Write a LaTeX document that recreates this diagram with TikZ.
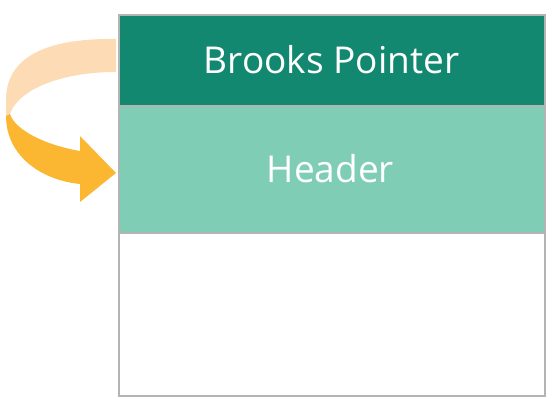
\documentclass[tikz,border=0pt]{standalone}
\usepackage{fontspec}
\setmainfont{Open Sans}
\definecolor{darkteal}{HTML}{138870}
\definecolor{lightteal}{HTML}{7FCDB5}
\definecolor{peach}{HTML}{FDDCB5}
\definecolor{amber}{HTML}{FBB632}
\definecolor{edgegray}{HTML}{B4B4B4}
\begin{document}
\begin{tikzpicture}[x=1pt,y=-1pt,
  band/.style={draw=edgegray,line width=1.2pt,inner sep=0pt,outer sep=0pt,anchor=north west,minimum width=426pt},
  label/.style={text=white,font=\fontsize{37}{40}\selectfont}]
\useasboundingbox (0,0) rectangle (554,406);
\node[band,fill=darkteal,minimum height=91pt] (bp) at (119,15) {};
\node[band,fill=lightteal,minimum height=127pt] (hd) at (119,106) {};
\node[band,fill=white,minimum height=163pt] (body) at (119,233) {};
\node[label] at (331.5,60) {Brooks Pointer};
\node[label] at (330.5,168.5) {Header};
% ribbon arrow
\fill[peach] (116,39) .. controls (50,38) and (6,55) .. (6,100) -- (6,116) -- (10,114)
  .. controls (18,90) and (60,72) .. (116,72) -- cycle;
\fill[amber] (6,116) .. controls (6,155) and (40,180) .. (80,184) -- (80,202) -- (116,173)
  -- (80,136) -- (80,151) .. controls (45,145) and (15,130) .. (10,114) -- cycle;
\end{tikzpicture}
\end{document}
